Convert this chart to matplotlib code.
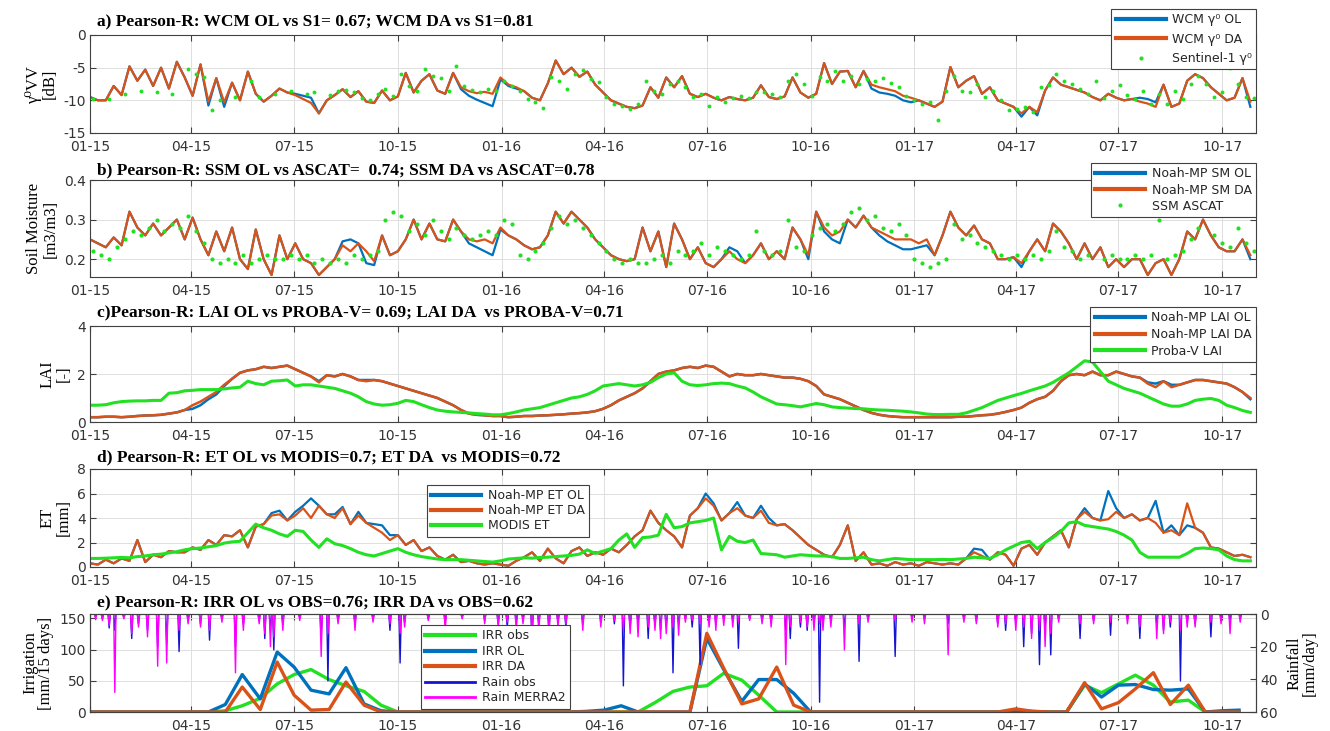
import numpy as np
import matplotlib
matplotlib.use('Agg')
import matplotlib.pyplot as plt
from matplotlib.lines import Line2D

plt.rcParams['font.family'] = ['DejaVu Sans']
plt.rcParams['axes.unicode_minus'] = False

nan = float('nan')

# ---------------- Panel a: backscatter (dB), weekly ----------------
sig_da = [-9.5,-10,-10,-7.8,-9.2,-4.8,-7.0,-5.3,-7.8,-5.0,-8.2,-4.1,-6.5,
 -9.3,-4.5,-10.2,-6.6,-10.3,-7.3,-10.0,-5.6,-9.0,-10.2,-9.3,-8.2,-8.8,
 -9.2,-9.8,-10.4,-12.0,-10.0,-9.2,-8.3,-9.5,-8.6,-10.2,-10.4,-8.5,-10.0,
 -9.4,-5.8,-8.8,-7.0,-6.0,-8.5,-9.0,-5.8,-8.0,-8.6,-8.9,-8.7,-9.0,
 -6.5,-7.6,-8.0,-8.6,-9.6,-10.0,-7.4,-3.9,-6.0,-5.0,-6.4,-5.6,-7.6,
 -8.8,-10.0,-10.5,-11.0,-11.2,-10.8,-8.0,-9.6,-6.5,-8.0,-6.3,-9.0,-9.5,
 -9.0,-9.6,-10.0,-9.5,-9.8,-10.0,-9.6,-7.7,-9.5,-9.8,-9.4,-6.5,-8.8,
 -9.6,-9.0,-4.3,-7.5,-5.6,-5.5,-8.0,-5.5,-7.6,-8.0,-8.3,-8.6,-9.3,-9.6,
 -10.0,-10.5,-11.0,-10.2,-4.9,-8.0,-7.0,-6.3,-9.0,-8.0,-10.0,-10.5,-11.0,
 -12.0,-11.0,-11.8,-8.5,-6.5,-7.6,-8.0,-8.4,-8.8,-9.5,-10.0,-9.0,-9.6,
 -10.0,-9.8,-10.2,-10.5,-11.0,-7.6,-11.0,-10.5,-7.0,-6.0,-6.6,-8.0,-9.0,
 -10.0,-9.6,-6.6,-10.2]
sig_ol = [-9.5,-10,-10,-7.8,-9.2,-4.8,-7.0,-5.3,-7.8,-5.0,-8.2,-4.1,-6.5,
 -9.3,-4.5,-10.8,-6.6,-11.0,-7.3,-10.0,-5.6,-9.0,-10.2,-9.3,-8.2,-8.8,
 -9.0,-9.3,-9.6,-12.0,-10.0,-9.2,-8.3,-9.5,-8.6,-10.2,-10.4,-8.5,-10.0,
 -9.4,-5.8,-8.8,-7.0,-6.0,-8.5,-9.0,-5.8,-8.3,-9.3,-9.9,-10.4,-10.9,
 -6.8,-7.8,-8.2,-8.6,-9.6,-10.0,-7.4,-3.9,-6.0,-5.0,-6.4,-5.6,-7.6,
 -8.8,-10.0,-10.5,-11.0,-11.2,-10.8,-8.0,-9.6,-6.5,-8.0,-6.3,-9.0,-9.5,
 -9.0,-9.6,-10.0,-9.5,-9.8,-10.0,-9.6,-7.7,-9.5,-9.8,-9.4,-6.5,-8.8,
 -9.6,-9.0,-4.3,-7.5,-5.6,-5.5,-8.0,-5.5,-8.2,-8.8,-9.0,-9.3,-10.0,-10.3,
 -10.0,-10.5,-11.0,-10.2,-4.9,-8.0,-7.0,-6.3,-9.0,-8.0,-10.0,-10.5,-11.0,
 -12.5,-11.0,-12.3,-8.5,-6.5,-7.6,-8.0,-8.4,-8.8,-9.5,-10.0,-9.0,-9.6,
 -10.0,-9.8,-9.6,-9.8,-10.3,-7.6,-11.0,-10.5,-7.0,-6.0,-6.6,-8.0,-9.0,
 -10.0,-9.6,-6.6,-11.0]
sig_s1 = [-9.8,nan,-9.8,nan,-9.0,nan,-8.5,nan,-8.8,nan,-9.0,nan,-5.2,
 -6.0,-6.5,-11.5,-10.0,nan,-9.5,nan,-7.0,-9.5,nan,-9.0,nan,-8.6,
 nan,-9.0,-8.8,nan,-9.2,-8.6,-8.4,-8.7,-9.6,-10.0,-9.0,-8.3,-9.4,
 -6.0,-7.8,-8.5,-5.2,-6.3,-6.6,-8.5,-4.8,-7.8,-8.4,-8.8,-8.2,-8.6,
 -7.0,-7.8,-8.6,-9.8,-10.2,-11.2,-6.5,-7.0,-8.2,-6.0,-5.4,-6.8,-7.2,
 -9.5,-10.5,-10.8,-11.3,-10.5,-7.0,-8.5,-9.0,-7.5,-7.0,-8.0,-9.5,-9.0,
 -10.8,-9.5,-10.2,-9.7,-9.3,-9.6,-8.8,-8.8,-9.0,-9.5,-7.0,-6.0,-7.5,
 -9.3,-6.5,-7.0,-5.5,-7.0,-6.2,-7.5,-6.8,-7.0,-6.6,-7.3,-8.0,-9.3,-10.0,
 -10.5,-10.3,-13.0,-8.5,-6.3,-8.5,-8.8,-7.5,-9.5,-8.6,-10.0,-11.5,-11.4,
 -11.0,-11.8,-8.0,-7.6,-6.0,-7.0,-7.5,-8.2,-9.0,-7.0,-9.6,-8.6,-7.6,
 -9.2,-9.8,-8.5,-10.5,-9.0,-10.5,-8.5,-9.8,-7.5,-6.3,-7.5,-9.5,-8.8,
 -5.0,-7.5,-9.5,-9.6]

# ---------------- Panel b: soil moisture, weekly ----------------
sm_da = [0.25,0.24,0.23,0.255,0.235,0.32,0.28,0.26,0.29,0.26,0.28,0.30,0.25,
 0.305,0.25,0.21,0.27,0.22,0.28,0.20,0.175,0.275,0.20,0.16,0.26,0.20,
 0.24,0.20,0.19,0.16,0.18,0.20,0.235,0.22,0.24,0.22,0.195,0.26,0.21,
 0.22,0.25,0.30,0.25,0.29,0.25,0.245,0.30,0.27,0.25,0.245,0.25,0.24,
 0.28,0.26,0.25,0.235,0.225,0.23,0.26,0.32,0.29,0.32,0.30,0.28,0.25,
 0.23,0.21,0.20,0.195,0.20,0.28,0.22,0.27,0.18,0.29,0.25,0.20,0.23,
 0.19,0.18,0.20,0.22,0.20,0.19,0.21,0.24,0.20,0.22,0.20,0.28,0.25,
 0.21,0.32,0.28,0.26,0.27,0.30,0.28,0.31,0.28,0.27,0.26,0.25,0.25,0.25,
 0.24,0.25,0.21,0.26,0.32,0.28,0.26,0.285,0.25,0.24,0.20,0.20,0.205,
 0.19,0.22,0.25,0.22,0.29,0.27,0.24,0.20,0.24,0.20,0.23,0.18,0.20,
 0.18,0.20,0.20,0.16,0.19,0.20,0.16,0.20,0.27,0.25,0.30,0.26,0.23,
 0.22,0.22,0.25,0.21]
sm_ol = [0.25,0.24,0.23,0.255,0.235,0.32,0.28,0.26,0.29,0.26,0.28,0.30,0.25,
 0.305,0.25,0.21,0.27,0.22,0.28,0.20,0.175,0.275,0.20,0.16,0.26,0.20,
 0.24,0.20,0.19,0.16,0.18,0.20,0.245,0.25,0.24,0.19,0.185,0.26,0.21,
 0.22,0.25,0.30,0.25,0.29,0.25,0.245,0.30,0.27,0.24,0.23,0.22,0.21,
 0.275,0.26,0.25,0.235,0.225,0.23,0.26,0.32,0.29,0.32,0.30,0.28,0.25,
 0.23,0.21,0.20,0.195,0.20,0.28,0.22,0.27,0.18,0.29,0.25,0.20,0.23,
 0.19,0.18,0.20,0.23,0.22,0.19,0.21,0.24,0.20,0.22,0.20,0.28,0.25,
 0.20,0.32,0.27,0.25,0.24,0.30,0.28,0.31,0.28,0.26,0.245,0.235,0.225,0.225,
 0.23,0.235,0.21,0.26,0.32,0.28,0.26,0.285,0.25,0.24,0.20,0.20,0.205,
 0.18,0.22,0.25,0.22,0.29,0.27,0.24,0.20,0.24,0.20,0.23,0.18,0.20,
 0.18,0.20,0.20,0.16,0.19,0.20,0.16,0.20,0.27,0.25,0.30,0.26,0.23,
 0.22,0.22,0.25,0.20]
sm_ascat = [0.22,0.21,0.20,0.23,0.25, 0.27,0.26,0.28,0.30, 0.27,0.29,0.28,0.31,
 0.27,0.24,0.20,0.19,0.20, 0.19,0.21,0.19,0.20, 0.21,0.20,0.20,0.21,
 0.20,0.21,0.19,0.20,0.19, 0.20,0.19,0.21,0.20, 0.21,0.22,0.30,0.32,
 0.31,0.27,0.29,0.26,0.30, 0.27,0.25,0.28,0.26, 0.25,0.26,0.27,0.26,
 0.30,0.29,0.21,0.20,0.22, 0.24,0.28,0.31,0.29, 0.30,0.28,0.26,0.24,
 0.22,0.20,0.19,0.20,0.19, 0.19,0.20,0.21,0.19, 0.22,0.21,0.22,0.24,0.21,
 0.23,0.22,0.21,0.20, 0.21,0.27,0.22,0.21, 0.22,0.30,0.23,0.22,0.26,
 0.28,0.29,0.27,0.29, 0.32,0.33,0.30,0.31, 0.28,0.27,0.29,0.26,0.20,
 0.19,0.18,0.19,0.20, 0.29,0.25,0.26,0.24, 0.23,0.22,0.21,0.20,0.21,
 0.20,0.21,0.20,0.22, 0.27,0.23,0.22,0.20, 0.21,0.32,0.20,0.21,0.20,
 0.20,0.21,0.20,0.21, 0.30,0.20,0.21,0.22,0.25, 0.28,0.32,0.26,0.24,
 0.23,0.28,0.24,0.22]

# ---------------- Panel c: LAI, weekly ----------------
lai_da = [0.2,0.2,0.22,0.22,0.2,0.22,0.25,0.27,0.28,0.3,0.35,0.4,0.5,
 0.7,0.85,1.05,1.25,1.55,1.8,2.05,2.15,2.2,2.3,2.25,2.3,2.35,
 2.2,2.05,1.9,1.65,1.95,1.9,2.0,1.9,1.75,1.7,1.75,1.7,1.6,
 1.5,1.4,1.3,1.2,1.1,1.0,0.85,0.7,0.5,0.35,0.3,0.28,0.25,
 0.25,0.2,0.22,0.25,0.25,0.27,0.28,0.3,0.32,0.35,0.37,0.4,0.45,
 0.55,0.7,0.9,1.05,1.2,1.4,1.7,2.0,2.1,2.15,2.25,2.3,2.25,
 2.35,2.3,2.1,1.9,2.0,1.95,1.95,2.0,1.95,1.9,1.85,1.85,1.8,
 1.7,1.5,1.15,1.05,0.95,0.8,0.65,0.5,0.38,0.3,0.25,0.22,0.2,0.2,
 0.2,0.2,0.2,0.2,0.2,0.22,0.22,0.25,0.28,0.3,0.35,0.42,0.5,
 0.6,0.8,0.95,1.05,1.3,1.7,1.95,2.0,1.95,2.1,1.95,1.95,2.1,
 2.0,1.9,1.85,1.6,1.45,1.7,1.45,1.55,1.65,1.75,1.75,1.7,1.65,
 1.6,1.45,1.25,1.0]
lai_ol = [0.2,0.2,0.22,0.22,0.2,0.22,0.25,0.27,0.28,0.3,0.35,0.4,0.5,
 0.55,0.7,0.95,1.15,1.5,1.8,2.05,2.15,2.2,2.3,2.25,2.3,2.35,
 2.2,2.05,1.9,1.7,1.95,1.9,2.0,1.9,1.75,1.75,1.75,1.7,1.6,
 1.5,1.4,1.3,1.2,1.1,1.0,0.85,0.7,0.5,0.35,0.3,0.28,0.25,
 0.25,0.2,0.22,0.25,0.25,0.27,0.28,0.3,0.32,0.35,0.37,0.4,0.45,
 0.55,0.7,0.9,1.05,1.2,1.4,1.7,2.0,2.1,2.15,2.25,2.3,2.25,
 2.35,2.3,2.1,1.9,2.0,1.95,1.95,2.0,1.95,1.9,1.85,1.85,1.8,
 1.7,1.5,1.15,1.05,0.95,0.8,0.65,0.5,0.38,0.3,0.25,0.22,0.2,0.2,
 0.2,0.2,0.2,0.2,0.2,0.22,0.22,0.25,0.28,0.3,0.35,0.42,0.5,
 0.6,0.8,0.95,1.05,1.3,1.7,1.95,2.0,1.95,2.1,1.95,1.95,2.1,
 2.0,1.9,1.85,1.65,1.6,1.7,1.55,1.55,1.65,1.75,1.75,1.7,1.65,
 1.6,1.45,1.25,0.95]
lai_probav = [0.7,0.7,0.72,0.8,0.85,0.87,0.88,0.88,0.9,0.9,1.2,1.22,1.3,
 1.32,1.35,1.35,1.35,1.38,1.42,1.45,1.7,1.6,1.55,1.7,1.72,1.75,
 1.5,1.55,1.55,1.5,1.45,1.4,1.3,1.2,1.05,0.85,0.75,0.7,0.72,
 0.78,0.9,0.85,0.72,0.6,0.5,0.45,0.42,0.4,0.38,0.35,0.33,0.3,
 0.3,0.35,0.42,0.5,0.55,0.6,0.7,0.8,0.9,1.0,1.05,1.15,1.3,
 1.5,1.55,1.6,1.55,1.5,1.55,1.65,1.85,2.0,2.05,1.7,1.55,1.52,
 1.55,1.6,1.62,1.6,1.5,1.42,1.25,1.05,0.9,0.75,0.72,0.68,0.63,
 0.7,0.77,0.72,0.63,0.6,0.58,0.56,0.55,0.52,0.5,0.49,0.47,0.45,0.42,
 0.38,0.33,0.31,0.31,0.32,0.32,0.38,0.49,0.6,0.75,0.9,1.0,1.1,
 1.19,1.3,1.4,1.5,1.65,1.85,2.05,2.3,2.55,2.5,2.1,1.7,1.55,
 1.4,1.3,1.2,1.05,0.9,0.75,0.66,0.66,0.75,0.9,0.95,0.98,0.9,
 0.7,0.6,0.48,0.4]

# ---------------- Panel d: ET (mm), weekly ----------------
et_da = [0.3,0.2,0.6,0.3,0.7,0.5,2.2,0.4,1.0,0.8,1.3,1.2,1.2,
 1.6,1.4,2.2,1.8,2.6,2.5,3.0,1.6,3.3,3.5,4.2,4.3,3.8,
 4.2,4.8,4.0,5.0,4.3,4.0,4.8,3.5,4.2,3.6,3.2,2.8,2.2,
 2.6,1.8,2.2,1.3,1.6,0.9,0.6,1.0,0.4,0.5,0.3,0.2,0.3,
 0.2,0.1,0.5,0.8,1.2,0.5,1.5,0.7,0.3,1.3,1.6,0.9,1.2,
 1.0,1.5,1.2,1.8,2.5,3.0,4.6,3.6,3.0,2.5,1.6,4.2,4.8,
 5.6,5.0,3.8,4.4,4.8,4.2,4.0,4.6,3.6,3.4,3.5,3.0,2.4,
 1.8,1.4,1.0,0.8,1.8,3.4,0.5,1.2,0.2,0.3,0.1,0.4,0.2,0.3,
 0.1,0.4,0.3,0.2,0.3,0.2,0.7,1.2,0.9,0.6,1.2,1.0,0.1,
 1.5,1.8,1.0,2.0,2.5,3.0,1.6,3.9,4.5,4.0,3.8,3.9,4.5,
 4.0,4.3,3.8,4.0,3.6,2.8,3.0,2.6,5.2,3.2,2.8,1.6,1.5,
 1.2,0.9,1.0,0.8]
et_ol = [0.3,0.2,0.6,0.3,0.7,0.5,2.2,0.4,1.0,0.8,1.3,1.2,1.2,
 1.6,1.4,2.2,1.8,2.6,2.5,3.0,1.6,3.3,3.5,4.4,4.6,3.8,
 4.5,5.0,5.6,5.0,4.3,4.3,4.9,3.5,4.5,3.6,3.5,3.4,2.6,
 2.6,1.8,2.2,1.3,1.6,0.9,0.6,1.0,0.4,0.5,0.3,0.2,0.3,
 0.2,0.1,0.5,0.8,1.2,0.5,1.5,0.7,0.3,1.3,1.6,0.9,1.2,
 1.0,1.5,1.2,1.8,2.5,3.0,4.6,3.6,3.0,2.5,1.6,4.2,4.8,
 6.0,5.2,3.8,4.4,5.3,4.2,4.0,5.0,4.0,3.4,3.5,3.0,2.4,
 1.8,1.4,1.0,0.8,1.8,3.4,0.5,1.2,0.2,0.3,0.1,0.4,0.2,0.3,
 0.1,0.4,0.3,0.2,0.3,0.2,0.7,1.5,1.4,0.6,1.2,1.0,0.1,
 1.5,1.8,1.0,2.0,2.5,3.0,1.6,3.9,4.8,4.0,3.8,6.2,4.8,
 4.0,4.3,3.8,4.0,5.4,2.8,3.4,2.6,3.4,3.2,2.8,1.6,1.5,
 1.2,0.9,1.0,0.8]
et_modis = [0.7,0.7,0.72,0.75,0.78,0.75,0.85,0.9,1.0,1.05,1.15,1.25,1.4,
 1.5,1.55,1.65,1.75,1.95,2.05,2.1,2.8,3.5,3.2,3.0,2.7,2.5,
 3.0,2.9,2.2,1.6,2.3,1.9,1.75,1.5,1.2,1.0,0.9,1.1,1.3,
 1.5,1.2,1.0,0.85,0.75,0.65,0.6,0.6,0.6,0.55,0.5,0.45,0.4,
 0.5,0.65,0.7,0.75,0.72,0.78,0.8,0.85,0.9,0.95,1.05,1.4,1.1,
 1.3,1.5,2.2,2.7,1.6,2.4,2.45,2.6,4.3,3.2,3.3,3.6,3.7,
 3.8,4.0,1.4,2.5,2.1,2.0,2.2,1.1,1.05,1.0,0.8,0.9,1.0,
 0.95,0.9,0.9,0.85,0.7,0.7,0.75,0.8,0.6,0.5,0.6,0.7,0.65,0.6,
 0.6,0.6,0.6,0.62,0.6,0.65,0.7,0.8,0.75,0.7,1.0,1.4,1.7,
 2.0,2.1,1.5,2.0,2.4,2.9,3.6,3.7,3.4,3.3,3.2,3.1,2.9,
 2.6,2.2,1.2,0.8,0.8,0.8,0.8,0.8,1.1,1.5,1.55,1.5,1.4,
 0.9,0.6,0.5,0.5]

# ---------------- Panel e: irrigation (mm/15 days), half-monthly ----------------
irr_obs = [0,0,0,0,0,0,0,0, 2,10,22,45,60,68,52,42,33,11,
 0,0,0,0,0,0,0,0,0,0,0,0,0,0,0, 15,33,40,42,62,51,27,
 0,0,0,0,0,0,0,0,0,0,0,0,0,0,0,0,0,0, 43,31,45,59,43,16,19, 0,0,0]
irr_ol = [0,0,0,0,0,0,0,0, 12,60,21,96,72,35,29,71,13,2,
 0,0,0,0,0,0,0,0,0,0,0, 1,3,10, 0,0,0,0, 118,68,17,52,52,30,
 0,0,0,0,0,0,0,0,0,0,0,0, 2,1, 0,0, 45,24,43,44,36,35,37, 0,2,3]
irr_da = [0,0,0,0,0,0,0,0,0, 40,4,80,27,3,4,48,11,
 0,0,0,0,0,0,0,0,0,0,0,0,0,0,0,0,0,0,0, 126,70,13,21,72,11,
 0,0,0,0,0,0,0,0,0,0,0,0, 5,1, 0,0, 47,5,15,37,63,12,43, 0,0,0]

# rainfall events: day since 2015-01-01, obs (mm/day), MERRA2 (mm/day)
rain_day = [5,11,17,22,30,37,43,51,60,68,79,87,98,106,117,129,136,150,155,160,163,171,186,
 205,211,220,235,251,266,275,279,300,315,330,350,362,370,378,384,392,398,407,415,422,437,
 453,465,473,479,486,495,501,506,511,517,522,528,534,541,549,555,562,570,575,585,596,604,
 617,621,630,636,642,647,650,657,669,682,690,714,729,740,761,775,786,805,812,821,828,835,
 842,847,852,859,878,890,905,920,931,946,952,958,967,973,980,994,1003,1011,1020]
rain_obs = [2,3,8.6,10,2,15,6,10,20,18,23,4,6,16,3,20,6,4,15,10,22,6,2,
 15,41,4,6,3,10,30,5,3,5,2,4,6,8,5,3,16,6,10,5,8,6,
 5,6,44,8,5,15,6,10,8,36,6,3,8,31,4,6,3,4,21,3,4,5,
 10,15,8,10,5,54,6,4,8,29,3,26,2,3,6,3,4,6,10,5,20,12,
 31,8,25,3,15,4,13,3,15,6,10,8,41,5,6,14,3,4,3]
rain_merra = [3.5,4,7,48,3,12,8,14,32,30,10,6,8,10,5,36,10,6,12,20,14,10,4,
 26,12,6,10,5,6,12,8,4,10,3,6,8,5,10,6,12,10,12,8,6,10,
 8,4,10,12,14,8,10,15,12,8,13,5,4,6,8,10,7,8,5,4,6,8,
 31,8,5,8,10,6,10,8,22,6,5,4,5,6,25,5,6,8,6,10,8,15,
 10,20,12,5,6,6,5,6,8,15,12,5,10,8,8,5,6,12,5]

ticks_year = [2015, 2016, 2017]
ticks_month = [1, 4, 7, 10]

# ---------------- derived axes data ----------------
t0 = np.datetime64('2015-01-01')
weeks = t0 + np.arange(len(sig_da)) * np.timedelta64(7, 'D')
half_months = np.array([np.datetime64('%d-%02d-%02d' % (2015 + j // 24, (j % 24) // 2 + 1, 1 if j % 2 == 0 else 16))
                        for j in range(len(irr_obs))])
ndays = 1034
days = t0 + np.arange(ndays) * np.timedelta64(1, 'D')
obs_daily = np.zeros(ndays)
merra_daily = np.zeros(ndays)
obs_daily[rain_day] = rain_obs
merra_daily[rain_day] = rain_merra

ticks = [np.datetime64('%d-%02d-01' % (y, m)) for y in ticks_year for m in ticks_month]
tick_labels = ['%02d-%02d' % (m, y % 100) for y in ticks_year for m in ticks_month]
xlim = (t0, np.datetime64('2017-10-31'))

BLUE = '#0072BD'
ORANGE = '#D95319'
GREEN = '#22E022'
RAINB = '#1414D2'
MAG = '#FF00FF'
AXC = '#404040'
SERIF = ['Liberation Serif', 'DejaVu Serif']

fig = plt.figure(figsize=(13.3, 7.31), dpi=100)
W_PX, H_PX = 1330.0, 731.0
L = 90 / W_PX
WD = 1166 / W_PX


def make_ax(top, bottom):
    return fig.add_axes([L, 1 - bottom / H_PX, WD, (bottom - top) / H_PX])


def style(ax, ylim, yticks, first_label=True, right=True):
    ax.set_xlim(*xlim)
    ax.set_ylim(*ylim)
    ax.set_yticks(yticks)
    ax.set_xticks(ticks)
    labs = list(tick_labels)
    if not first_label:
        labs[0] = ''
    ax.set_xticklabels(labs)
    ax.grid(True, color='#dedede', lw=0.7)
    ax.set_axisbelow(True)
    ax.tick_params(direction='in', top=True, right=right, length=4, width=0.8,
                   color=AXC, labelsize=10, labelcolor='#333333', pad=3)
    ax.tick_params(axis='x', pad=5)
    for s in ax.spines.values():
        s.set_color(AXC)
        s.set_linewidth(0.8)


def title(yc, txt):
    fig.text(97 / W_PX, 1 - yc / H_PX, txt, fontfamily=SERIF, fontweight='bold',
             fontsize=12.5, va='center', ha='left')


def legend(ax, handles, labels, anchor, loc, spacing):
    lg = ax.legend(handles, labels, loc=loc, bbox_to_anchor=anchor, borderaxespad=0,
                   fancybox=False, framealpha=1, edgecolor=AXC, fontsize=9,
                   handlelength=4.0, handletextpad=0.5, labelspacing=spacing, borderpad=0.35)
    lg.get_frame().set_linewidth(0.8)
    lg.set_zorder(20)
    for t in lg.get_texts():
        t.set_color('#262626')
    return lg


def lh(c, lw=3):
    return Line2D([], [], color=c, lw=lw)


# ---- a ----
ax = make_ax(35, 133)
ax.plot(weeks, sig_ol, color=BLUE, lw=1.6)
ax.plot(weeks, sig_da, color=ORANGE, lw=1.6)
ax.plot(weeks + np.timedelta64(3, 'D'), sig_s1, ls='none', marker='o', ms=2.8, color=GREEN, mec='none')
style(ax, (-15, 0), [-15, -10, -5, 0])
ax.set_ylabel('γ⁰VV\n[dB]', fontfamily=SERIF, fontsize=12, linespacing=1.0, labelpad=4)
legend(ax, [lh(BLUE), lh(ORANGE), Line2D([], [], ls='none', marker='o', ms=3, color=GREEN, mec='none')],
       ['WCM γ⁰ OL', 'WCM γ⁰ DA', 'Sentinel-1 γ⁰'], (1.0, 1.265), 'upper right', 0.5)
title(22, 'a) Pearson-R: WCM OL vs S1= 0.67; WCM DA vs S1=0.81')

# ---- b ----
ax = make_ax(180, 277)
ax.plot(weeks, sm_ol, color=BLUE, lw=1.6)
ax.plot(weeks, sm_da, color=ORANGE, lw=1.6)
ax.plot(weeks + np.timedelta64(3, 'D'), sm_ascat, ls='none', marker='o', ms=3.0, color=GREEN, mec='none')
style(ax, (0.155, 0.4), [0.2, 0.3, 0.4])
ax.set_ylabel('Soil Moisture\n[m3/m3]', fontfamily=SERIF, fontsize=12, linespacing=1.0, labelpad=4)
legend(ax, [lh(BLUE), lh(ORANGE), Line2D([], [], ls='none', marker='o', ms=3, color=GREEN, mec='none')],
       ['Noah-MP SM OL', 'Noah-MP SM DA', 'SSM ASCAT'], (1.0, 1.175), 'upper right', 0.25)
title(170, 'b) Pearson-R: SSM OL vs ASCAT=  0.74; SSM DA vs ASCAT=0.78')

# ---- c ----
ax = make_ax(326, 422)
ax.plot(weeks, lai_ol, color=BLUE, lw=1.8)
ax.plot(weeks, lai_da, color=ORANGE, lw=1.8)
ax.plot(weeks, lai_probav, color=GREEN, lw=2.2)
style(ax, (0, 4), [0, 2, 4])
ax.set_ylabel('LAI\n[-]', fontfamily=SERIF, fontsize=12, linespacing=1.0, labelpad=4)
legend(ax, [lh(BLUE), lh(ORANGE), lh(GREEN)],
       ['Noah-MP LAI OL', 'Noah-MP LAI DA', 'Proba-V LAI'], (1.0, 1.198), 'upper right', 0.3)
title(313, 'c)Pearson-R: LAI OL vs PROBA-V= 0.69; LAI DA  vs PROBA-V=0.71')

# ---- d ----
ax = make_ax(469, 567)
ax.plot(weeks, et_ol, color=BLUE, lw=1.6)
ax.plot(weeks, et_da, color=ORANGE, lw=1.6)
ax.plot(weeks, et_modis, color=GREEN, lw=2.2)
style(ax, (0, 8), [0, 2, 4, 6, 8])
ax.set_ylabel('ET\n[mm]', fontfamily=SERIF, fontsize=12, linespacing=1.0, labelpad=4)
legend(ax, [lh(BLUE), lh(ORANGE), lh(GREEN)],
       ['Noah-MP ET OL', 'Noah-MP ET DA', 'MODIS ET'], ((427 - 90) / 1166, 1 - 16 / 98), 'upper left', 0.15)
title(457, 'd) Pearson-R: ET OL vs MODIS=0.7; ET DA  vs MODIS=0.72')

# ---- e ----
ax = make_ax(614, 712)
ax.plot(half_months, irr_obs, color=GREEN, lw=2.4)
ax.plot(half_months, irr_ol, color=BLUE, lw=2.4)
ax.plot(half_months, irr_da, color=ORANGE, lw=2.4)
style(ax, (0, 157), [0, 50, 100, 150], first_label=False, right=False)
ax.set_ylabel('Irrigation\n[mm/15 days]', fontfamily=SERIF, fontsize=12, linespacing=1.0, labelpad=4)
ax2 = ax.twinx()
ax2.plot(days, obs_daily, color=RAINB, lw=1.0)
ax2.plot(days, merra_daily, color=MAG, lw=1.0)
ax2.set_ylim(60, 0)
ax2.set_yticks([0, 20, 40, 60])
ax2.set_xlim(*xlim)
ax2.tick_params(direction='in', length=4, width=0.8, color=AXC, labelsize=10, labelcolor='#333333', pad=3)
for s in ax2.spines.values():
    s.set_color(AXC)
    s.set_linewidth(0.8)
ax2.set_ylabel('Rainfall\n[mm/day]', fontfamily=SERIF, fontsize=12, linespacing=1.0, labelpad=6)
legend(ax2, [lh(GREEN), lh(BLUE), lh(ORANGE), lh(RAINB, 2), lh(MAG, 2)],
       ['IRR obs', 'IRR OL', 'IRR DA', 'Rain obs', 'Rain MERRA2'],
       ((421 - 90) / 1166, 1 - 11 / 98), 'upper left', 0.2)
title(603, 'e) Pearson-R: IRR OL vs OBS=0.76; IRR DA vs OBS=0.62')

fig.savefig('out.png', dpi=100)
